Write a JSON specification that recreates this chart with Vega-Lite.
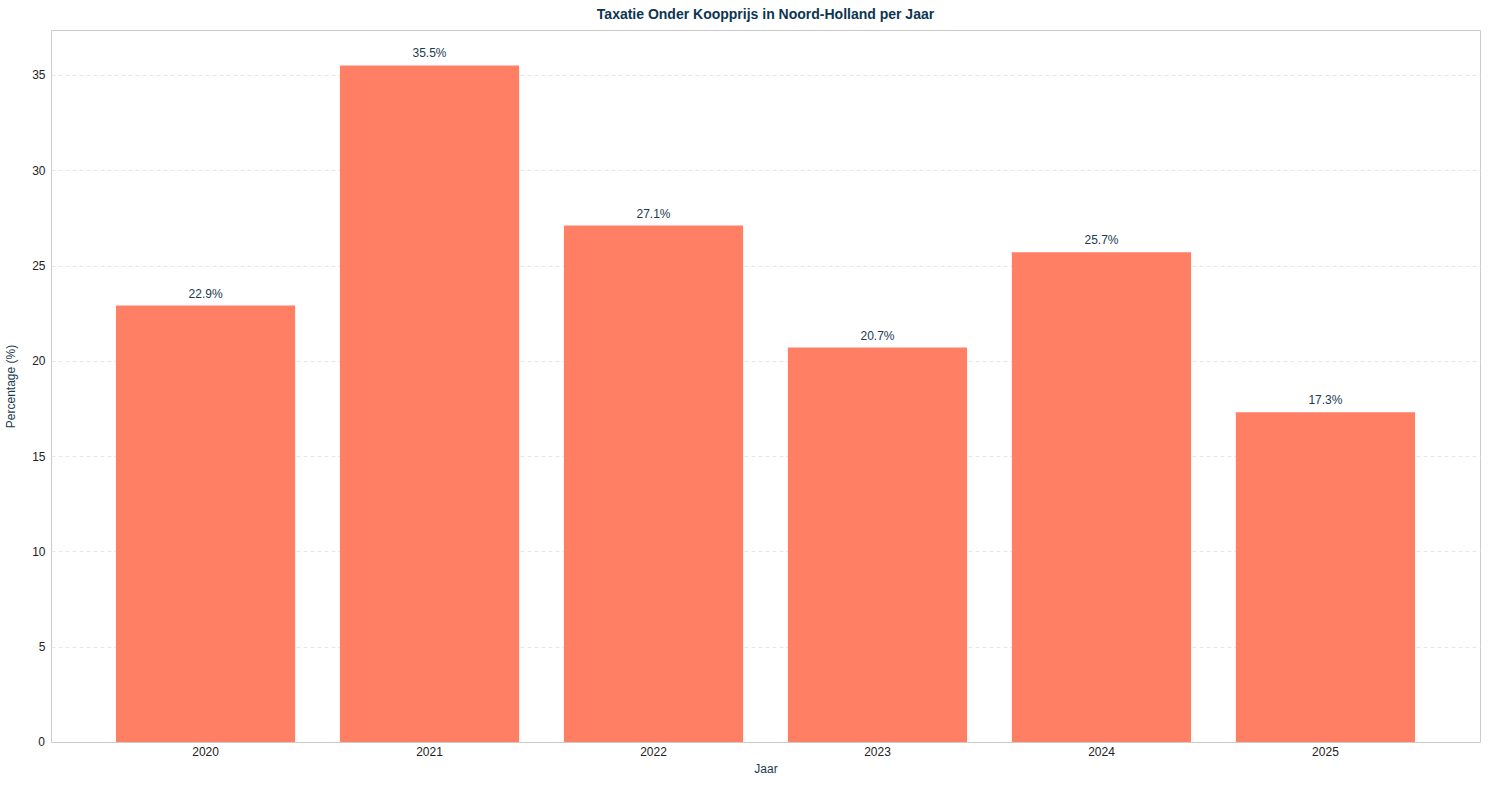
{
  "$schema": "https://vega.github.io/schema/vega-lite/v6.json",
  "width": 1429,
  "height": 712,
  "autosize": {"type": "none"},
  "padding": {"left": 51, "top": 30, "right": 9, "bottom": 48},
  "background": "white",
  "title": {
    "text": "Taxatie Onder Koopprijs in Noord-Holland per Jaar",
    "font": "Liberation Sans",
    "fontSize": 14,
    "fontWeight": "bold",
    "color": "#0d3550",
    "anchor": "middle",
    "offset": 8
  },
  "config": {
    "font": "Liberation Sans",
    "view": {"stroke": "#cccccc", "strokeWidth": 1}
  },
  "data": {
    "values": [
      {"jaar": "2020", "pct": 22.9},
      {"jaar": "2021", "pct": 35.5},
      {"jaar": "2022", "pct": 27.1},
      {"jaar": "2023", "pct": 20.7},
      {"jaar": "2024", "pct": 25.7},
      {"jaar": "2025", "pct": 17.3}
    ]
  },
  "encoding": {
    "x": {
      "field": "jaar",
      "type": "ordinal",
      "title": "Jaar",
      "scale": {"paddingInner": 0.2, "paddingOuter": 0.29},
      "axis": {
        "labelAngle": 0,
        "labelFontSize": 12,
        "labelColor": "#222222",
        "labelPadding": 4,
        "ticks": false,
        "domain": false,
        "titleFontSize": 12,
        "titleFontWeight": "normal",
        "titleColor": "#1a3a52",
        "titlePadding": 6
      }
    },
    "y": {
      "field": "pct",
      "type": "quantitative",
      "title": "Percentage (%)",
      "scale": {"domain": [0, 37.36], "nice": false},
      "axis": {
        "values": [5, 10, 15, 20, 25, 30, 35],
        "labelFontSize": 12,
        "labelColor": "#222222",
        "labelPadding": 6,
        "ticks": false,
        "domain": false,
        "grid": true,
        "gridColor": "#e6e6e6",
        "gridDash": [4, 3],
        "titleFontSize": 12,
        "titleFontWeight": "normal",
        "titleColor": "#1a3a52",
        "titlePadding": 14
      }
    }
  },
  "layer": [
    {
      "mark": {"type": "bar", "color": "#ff7f65"}
    },
    {
      "transform": [
        {"calculate": "format(datum.pct, '.1f') + '%'", "as": "label"}
      ],
      "mark": {
        "type": "text",
        "baseline": "bottom",
        "dy": -5,
        "fontSize": 12,
        "color": "#1a3a52"
      },
      "encoding": {
        "text": {"field": "label", "type": "nominal"}
      }
    },
    {
      "data": {"values": [{"v": 0}]},
      "mark": {"type": "text", "align": "right", "baseline": "middle", "dx": -6, "fontSize": 12, "color": "#222222"},
      "encoding": {
        "x": {"value": 0},
        "y": {"field": "v", "type": "quantitative"},
        "text": {"field": "v", "type": "quantitative"}
      }
    }
  ]
}
